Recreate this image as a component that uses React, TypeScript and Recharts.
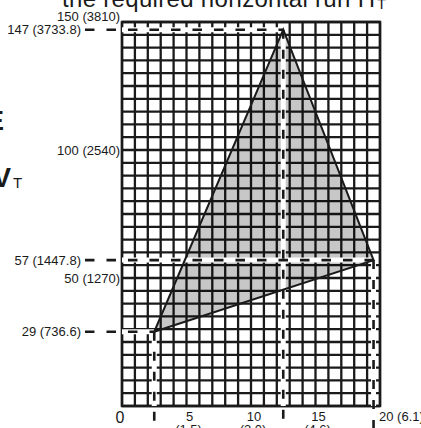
import React from 'react';
import { ComposedChart, XAxis, YAxis, CartesianGrid, Scatter, ReferenceLine, ReferenceArea } from 'recharts';

// grid: one line per foot across, one per 5 in. up
const xGridTicks = [0, 1, 2, 3, 4, 5, 6, 7, 8, 9, 10, 11, 12, 13, 14, 15, 16, 17, 18, 19, 20];
const yGridTicks = [
  0, 5, 10, 15, 20, 25, 30, 35, 40, 45, 50, 55, 60, 65, 70, 75,
  80, 85, 90, 95, 100, 105, 110, 115, 120, 125, 130, 135, 140, 145, 150,
];

const xLabelValues = [0, 5, 10, 15, 20];
const xLabelFeet = ['0', '5', '10', '15', '20 (6.1)'];
const xLabelMetres = ['', '(1.5)', '(3.0)', '(4.6)', ''];

const yLabelValues = [50, 100, 150];
const yLabelText = ['50 (1270)', '100 (2540)', '150 (3810)'];

// triangle corners: horizontal run (ft) vs. height (in.)
const vertexRun = [2.5, 12.5, 19.5];
const vertexHeight = [29, 147, 57];
const vertexLabels = ['29 (736.6)', '147 (3733.8)', '57 (1447.8)'];

const LEADER_START = -2.87; // dashed leaders begin left of the axis, next to their label
const LEADER_END = -12;     // vertical leaders run off the bottom of the picture

const FONT = '"Liberation Sans", Arial, Helvetica, sans-serif';
const INK = '#1a1a1a';
const LABEL_SIZE = 13;

const triangle = [...vertexRun, vertexRun[0]].map((x, i) => ({
  x,
  y: vertexHeight[i % vertexHeight.length],
}));

const XTick = (props: any) => {
  const { x, y, payload } = props;
  const i = xLabelValues.indexOf(payload.value);
  if (i < 0) return <g />;
  if (i === 0) {
    return (
      <text x={x - 2} y={y + 17} fontSize={16} textAnchor="middle" fill={INK} fontFamily={FONT}>
        {xLabelFeet[i]}
      </text>
    );
  }
  if (i === xLabelValues.length - 1) {
    return (
      <text x={x - 1} y={y + 15} fontSize={LABEL_SIZE} textAnchor="start" fill={INK} fontFamily={FONT}>
        {xLabelFeet[i]}
      </text>
    );
  }
  return (
    <text x={x + 3} y={y + 15} fontSize={LABEL_SIZE} textAnchor="middle" fill={INK} fontFamily={FONT}>
      <tspan x={x + 3}>{xLabelFeet[i]}</tspan>
      <tspan x={x + 2} dy={13}>{xLabelMetres[i]}</tspan>
    </text>
  );
};

const YTick = (props: any) => {
  const { x, y, payload } = props;
  const i = yLabelValues.indexOf(payload.value);
  if (i < 0) return <g />;
  const lift = payload.value === 150 ? -6 : 0;
  return (
    <text x={x} y={y + lift} dy={4.5} fontSize={LABEL_SIZE} textAnchor="end" fill={INK} fontFamily={FONT}>
      {yLabelText[i]}
    </text>
  );
};

const App = () => {
  return (
    <div style={{ position: 'absolute', left: 0, top: 0, width: 421, height: 428, background: '#fff', overflow: 'hidden' }}>
      <ComposedChart width={421} height={428} margin={{ top: 22, right: 41, bottom: 0, left: 0 }}>
        <CartesianGrid stroke={INK} strokeWidth={2.3} strokeOpacity={1} />
        <XAxis
          type="number"
          dataKey="x"
          domain={[0, 20]}
          ticks={xGridTicks}
          interval={0}
          allowDataOverflow
          tickLine={false}
          axisLine={false}
          tickSize={0}
          tickMargin={0}
          height={22}
          tick={<XTick />}
        />
        <YAxis
          type="number"
          dataKey="y"
          domain={[0, 150]}
          ticks={yGridTicks}
          interval={0}
          allowDataOverflow
          tickLine={false}
          axisLine={false}
          tickSize={0}
          tickMargin={2}
          width={122}
          tick={<YTick />}
        />
        <ReferenceArea x1={0} x2={20} y1={0} y2={150} fill="none" stroke={INK} strokeWidth={2.5} fillOpacity={0} />
        {/* translucent black fill: grid lines stay black, white cells turn grey */}
        <Scatter
          data={triangle}
          isAnimationActive={false}
          shape={() => <g />}
          line={{ stroke: 'none', fill: '#000', fillOpacity: 0.22 }}
        />
        {vertexRun.map((run, i) => (
          <ReferenceLine
            key={`hh${i}`}
            segment={[{ x: 0, y: vertexHeight[i] }, { x: run, y: vertexHeight[i] }]}
            stroke="#fff"
            strokeWidth={5}
            ifOverflow="visible"
            zIndex={700}
          />
        ))}
        {vertexRun.map((run, i) => (
          <ReferenceLine
            key={`vh${i}`}
            segment={[{ x: run, y: vertexHeight[i] }, { x: run, y: 0 }]}
            stroke="#fff"
            strokeWidth={5}
            ifOverflow="visible"
            zIndex={700}
          />
        ))}
        <Scatter
          data={triangle}
          isAnimationActive={false}
          shape={() => <g />}
          zIndex={705}
          line={{ stroke: INK, strokeWidth: 2, fill: 'none', strokeLinejoin: 'miter' }}
        />
        {vertexRun.map((run, i) => (
          <ReferenceLine
            key={`hd${i}`}
            segment={[{ x: LEADER_START, y: vertexHeight[i] }, { x: run, y: vertexHeight[i] }]}
            stroke={INK}
            strokeWidth={2.6}
            strokeDasharray="9.5 12"
            ifOverflow="visible"
            zIndex={710}
            label={{ value: vertexLabels[i], position: 'left', offset: 4, fill: INK, fontSize: LABEL_SIZE, fontFamily: FONT }}
          />
        ))}
        {vertexRun.map((run, i) => (
          <ReferenceLine
            key={`vd${i}`}
            segment={[{ x: run, y: vertexHeight[i] }, { x: run, y: LEADER_END }]}
            stroke={INK}
            strokeWidth={2.6}
            strokeDasharray="9 11"
            ifOverflow="visible"
            zIndex={710}
          />
        ))}
      </ComposedChart>
      <svg width={421} height={428} style={{ position: 'absolute', left: 0, top: 0, pointerEvents: 'none' }}>
        <text x={62} y={7} fontSize={24} textLength={313} fill={INK} fontFamily={FONT}>
          the required horizontal run H
        </text>
        <text x={377} y={9} fontSize={15} fill={INK} fontFamily={FONT}>T</text>
        <text x={4} y={130} fontSize={27} fontWeight="bold" textAnchor="end" fill={INK} fontFamily={FONT}>E</text>
        <text x={11} y={187} fontSize={27} fontWeight="bold" textAnchor="end" fill={INK} fontFamily={FONT}>V</text>
        <text x={13} y={188} fontSize={15} fill={INK} fontFamily={FONT}>T</text>
      </svg>
    </div>
  );
};

export default App;
